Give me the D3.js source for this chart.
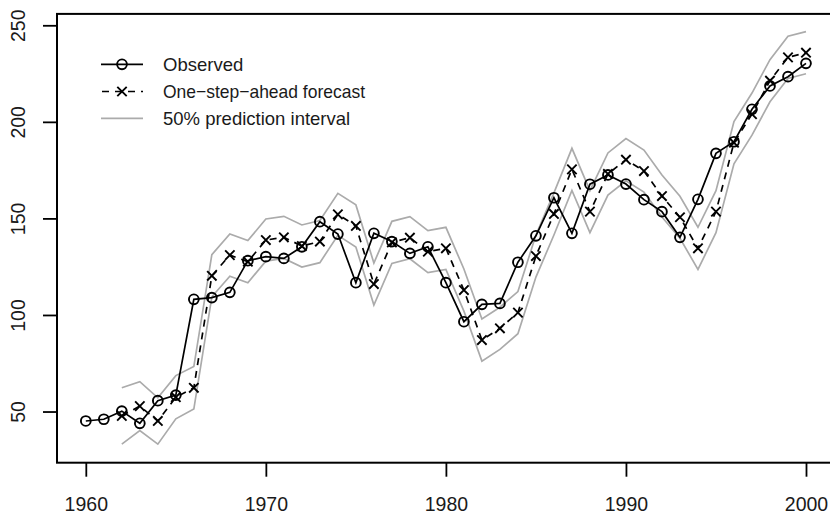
<!DOCTYPE html>
<html><head><meta charset="utf-8">
<script src="https://cdn.jsdelivr.net/npm/d3@7"></script>
<style>body{margin:0;background:#fff} svg{display:block}</style>
</head><body><svg id="c" width="830" height="514"></svg>
<script>
const obsYears = [1960,1961,1962,1963,1964,1965,1966,1967,1968,1969,1970,1971,1972,1973,1974,1975,1976,1977,1978,1979,1980,1981,1982,1983,1984,1985,1986,1987,1988,1989,1990,1991,1992,1993,1994,1995,1996,1997,1998,1999,2000];
const observed = [45.1,46.0,50.2,43.9,55.6,58.5,108.1,109.0,111.7,128.1,130.2,129.3,135.3,148.3,141.9,116.7,142.3,138.0,131.9,135.3,116.7,96.5,105.5,106.0,127.3,141.0,160.7,142.3,167.7,172.5,167.8,159.7,153.5,140.2,159.9,183.7,189.7,206.5,218.6,223.4,230.3];
const fcYears = [1962,1963,1964,1965,1966,1967,1968,1969,1970,1971,1972,1973,1974,1975,1976,1977,1978,1979,1980,1981,1982,1983,1984,1985,1986,1987,1988,1989,1990,1991,1992,1993,1994,1995,1996,1997,1998,1999,2000];
const forecast = [47.7,52.8,45.1,57.4,62.3,120.3,131.0,127.6,138.8,140.2,135.7,138.0,152.1,146.1,116.0,137.6,140.0,132.8,134.5,112.9,87.0,93.1,101.2,130.5,152.3,175.4,153.5,173.0,180.4,174.5,161.6,150.6,134.5,153.5,189.2,204.0,221.3,233.4,235.8];
const upper = [62.3,65.5,57.1,68.6,73.3,131.2,141.9,138.5,149.7,151.1,146.6,148.9,163.0,157.0,126.9,148.5,150.9,143.7,145.4,123.8,97.9,104.0,112.1,141.4,163.2,186.3,164.4,183.9,191.3,185.4,172.5,161.5,145.4,164.4,200.1,214.9,232.2,244.3,246.7];
const lower = [33.1,40.1,33.1,46.2,51.3,109.4,120.1,116.7,127.9,129.3,124.8,127.1,141.2,135.2,105.1,126.7,129.1,121.9,123.6,102.0,76.1,82.2,90.3,119.6,141.4,164.5,142.6,162.1,169.5,163.6,150.7,139.7,123.6,142.6,178.3,193.1,210.4,222.5,224.9];
const xTicks = [1960,1970,1980,1990,2000];
const yTicks = [50,100,150,200,250];
const legendLabels = ["Observed","One\u2212step\u2212ahead forecast","50% prediction interval"];

const svg = d3.select("#c");
const FONT = "'Liberation Sans', Arial, Helvetica, sans-serif";
const FS = 18.5;
const FST = 19.5;
const x = d3.scaleLinear().domain([1958.4, 2001.6]).range([57, 834.8]);
const y = d3.scaleLinear().domain([23.5, 255.9]).range([462.7, 13.9]);
const grey = "#ababab";

// intervals
const lineFc = d3.line().x((d,i)=>x(fcYears[i])).y(d=>y(d));
svg.append("path").attr("d", lineFc(upper)).attr("fill","none").attr("stroke",grey).attr("stroke-width",1.7);
svg.append("path").attr("d", lineFc(lower)).attr("fill","none").attr("stroke",grey).attr("stroke-width",1.7);

// forecast dashed
svg.append("path").attr("d", lineFc(forecast)).attr("fill","none").attr("stroke","#000").attr("stroke-width",1.7).attr("stroke-dasharray","7,6");
const xs = 4.7;
const crossPath = (cx, cy) => `M${cx-xs},${cy-xs}L${cx+xs},${cy+xs}M${cx-xs},${cy+xs}L${cx+xs},${cy-xs}`;
svg.append("g").selectAll("path").data(forecast).join("path")
  .attr("d",(d,i)=>crossPath(x(fcYears[i]), y(d)))
  .attr("stroke","#000").attr("stroke-width",1.9).attr("fill","none");

// observed
const lineObs = d3.line().x((d,i)=>x(obsYears[i])).y(d=>y(d));
svg.append("path").attr("d", lineObs(observed)).attr("fill","none").attr("stroke","#000").attr("stroke-width",1.7);
svg.append("g").selectAll("circle").data(observed).join("circle")
  .attr("cx",(d,i)=>x(obsYears[i])).attr("cy",d=>y(d)).attr("r",4.9)
  .attr("fill","none").attr("stroke","#000").attr("stroke-width",1.9);

// box
svg.append("rect").attr("x",57).attr("y",13.9).attr("width",834.8-57).attr("height",462.7-13.9)
  .attr("fill","none").attr("stroke","#000").attr("stroke-width",2);

// axes
const xAxis = svg.append("g").attr("transform","translate(0,462.7)")
  .call(d3.axisBottom(x).tickValues(xTicks).tickFormat(d3.format("d")).tickSize(14));
xAxis.select(".domain").remove();
xAxis.selectAll("line").attr("stroke","#000").attr("stroke-width",1.8);
xAxis.selectAll("text").attr("font-family",FONT).attr("font-size",FST).attr("fill","#1a1a1a")
  .attr("dy",null).attr("y",48.8);

const yAxis = svg.append("g").attr("transform","translate(57,0)")
  .call(d3.axisLeft(y).tickValues(yTicks).tickSize(14));
yAxis.select(".domain").remove();
yAxis.selectAll("line").attr("stroke","#000").attr("stroke-width",1.8);
yAxis.selectAll("text").attr("font-family",FONT).attr("font-size",FST).attr("fill","#1a1a1a")
  .attr("x",null).attr("dy",null).attr("text-anchor","middle")
  .attr("transform","translate(-32.5,0) rotate(-90)");

// legend
const lg = svg.append("g");
const rows = [64.3, 91.5, 118.4];
legendLabels.forEach((t,i)=>{
  const ry = rows[i];
  const l = lg.append("line").attr("x1",101).attr("x2",143).attr("y1",ry).attr("y2",ry)
    .attr("stroke", i===2?grey:"#000").attr("stroke-width",1.7);
  if(i===1) l.attr("stroke-dasharray","7,6").attr("stroke-dashoffset",-1);
  if(i===0) lg.append("circle").attr("cx",122).attr("cy",ry).attr("r",4.9).attr("fill","none").attr("stroke","#000").attr("stroke-width",1.9);
  if(i===1) lg.append("path").attr("d",crossPath(122,ry)).attr("stroke","#000").attr("stroke-width",1.9);
  const tx = lg.append("text").attr("x",163).attr("y",ry+6.6).text(t)
    .attr("font-family",FONT).attr("font-size",FS).attr("fill","#1a1a1a");
  if(i===1) tx.attr("textLength",202).attr("lengthAdjust","spacingAndGlyphs");
});
</script></body></html>
